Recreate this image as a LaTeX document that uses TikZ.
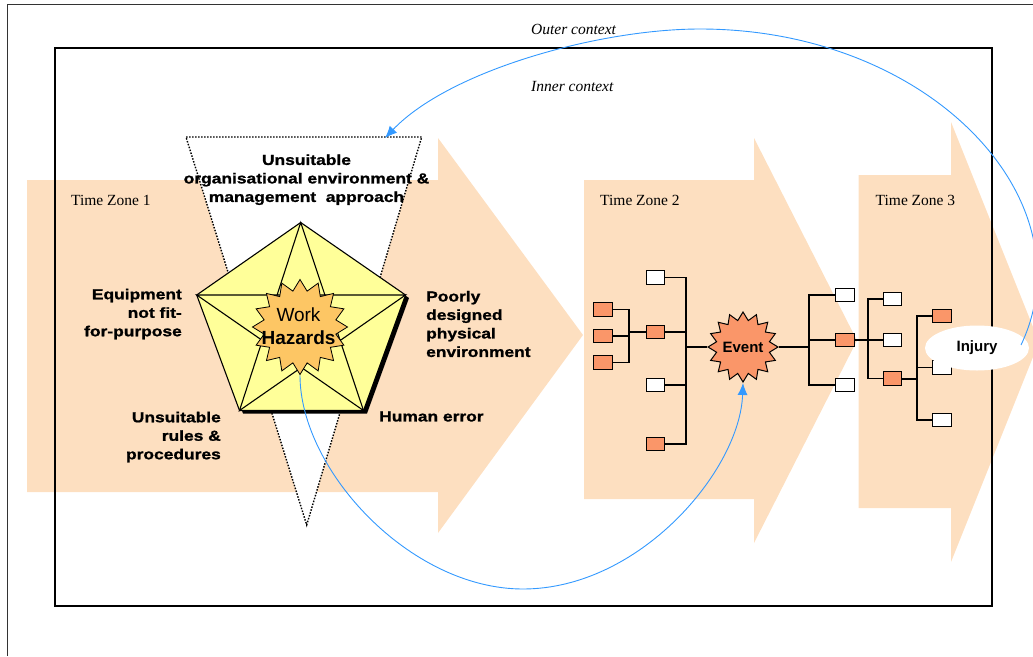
\documentclass[tikz,border=0pt]{standalone}
\usepackage{fontspec}
\setmainfont{Liberation Serif}
\newfontfamily\labelfont{Liberation Sans}[FakeStretch=1.2, FakeBold=1.2]
\newfontfamily\arialfont{Liberation Sans}
\usetikzlibrary{shapes.geometric,arrows.meta}

\definecolor{peach}{RGB}{253,223,192}
\definecolor{paleyellow}{RGB}{255,255,153}
\definecolor{hazard}{RGB}{253,198,100}
\definecolor{salmon}{RGB}{250,150,105}
\definecolor{linkblue}{RGB}{51,153,255}

\tikzset{
  zonearrow/.style={fill=peach, draw=none},
  treebox/.style={rectangle, draw=black, line width=1.1pt, minimum width=18.5pt,
    minimum height=13.5pt, inner sep=0pt},
  boxhot/.style={treebox, fill=salmon},
  boxcold/.style={treebox, fill=white},
  branchline/.style={line width=1.1pt},
  linkline/.style={line width=2pt},
  boldlabel/.style={inner sep=0pt, font=\labelfont\bfseries\fontsize{14.5}{18.5}\selectfont},
  zonelabel/.style={inner sep=0pt, anchor=west, font=\fontsize{15.5}{18}\selectfont},
  ctxlabel/.style={inner sep=0pt, anchor=west, font=\itshape\fontsize{15.5}{18}\selectfont},
  bluearc/.style={draw=linkblue, line width=0.9pt, -{Latex[length=12pt,width=10pt]}},
  burst/.style={star, star points=16, star point ratio=1.3, inner sep=0pt, draw=black},
}

\begin{document}
\begin{tikzpicture}[x=1pt, y=-1pt]
\useasboundingbox (0,0) rectangle (1033,656);

% time-zone arrows
\fill[zonearrow] (27,180) -- (438,180) -- (438,138) -- (583,335) -- (438,533) -- (438,492) -- (27,492) -- cycle;
\fill[zonearrow] (584,180) -- (754,180) -- (754,138) -- (857,340.5) -- (754,543) -- (754,499) -- (584,499) -- cycle;
\fill[zonearrow] (858.5,175) -- (951,175) -- (951,122) -- (1039,342) -- (951,562) -- (951,508) -- (858.5,508) -- cycle;

% inner context frame
\draw[line width=1.3pt] (55,48) rectangle (992,606);

% context and zone titles
\node[ctxlabel] (outer) at (531,29) {Outer context};
\node[ctxlabel] (inner) at (531,86) {Inner context};
\node[zonelabel] (tz1) at (71,200.5) {Time Zone 1};
\node[zonelabel] (tz2) at (600,200.5) {Time Zone 2};
\node[zonelabel] (tz3) at (875.5,200.5) {Time Zone 3};

% organisational funnel
\draw[line width=1.4pt, dash pattern=on 1.5pt off 1.5pt, fill=white]
  (186,137) -- (421.7,137) -- (306.7,525) -- cycle;

% hazard pentagon with pentagram
\coordinate (pT)  at (300.7,222.5);
\coordinate (pL)  at (196.7,295);
\coordinate (pR)  at (405.5,295);
\coordinate (pBL) at (239.5,410.5);
\coordinate (pBR) at (363.5,410.5);
\fill[black] ([xshift=3.5pt,yshift=-3pt]pT) -- ([xshift=3.5pt,yshift=-3pt]pR) -- ([xshift=3.5pt,yshift=-3pt]pBR)
  -- ([xshift=3.5pt,yshift=-3pt]pBL) -- ([xshift=3.5pt,yshift=-3pt]pL) -- cycle;
\draw[line width=1.1pt, fill=paleyellow, line join=round] (pT) -- (pR) -- (pBR) -- (pBL) -- (pL) -- cycle;
\draw[line width=1.1pt] (pT) -- (pBL) -- (pR) -- (pL) -- (pBR) -- cycle;

\node[burst, minimum size=95pt, fill=hazard, line width=0.8pt] (wh) at (300,327) {};
\node[align=center, inner sep=0pt, font=\arialfont\fontsize{19}{23}\selectfont] (whtext) at (298.5,326) {Work\\\textbf{Hazards}};

% contributing factors
\node[boldlabel, align=center] (org) at (306.5,179.7) {Unsuitable\\organisational environment \&\\management\ \ approach};
\node[boldlabel, align=right, anchor=east] (equip) at (182,314) {Equipment\\not fit-\\for-purpose};
\node[boldlabel, align=right, anchor=east] (rules) at (221,437) {Unsuitable\\rules \&\\procedures};
\node[boldlabel, align=left, anchor=west] (phys) at (426,324) {Poorly\\designed\\physical\\environment};
\node[boldlabel, anchor=west] (human) at (379,416.5) {Human error};

% event tree boxes
\node[boxhot]  (L1) at (603,309.5) {};
\node[boxhot]  (L2) at (603,336) {};
\node[boxhot]  (L3) at (603,362.5) {};
\node[boxcold] (M1) at (655.5,277.5) {};
\node[boxhot]  (M2) at (655.5,332) {};
\node[boxcold] (M3) at (655.5,385) {};
\node[boxhot]  (M4) at (655.5,444) {};
\node[boxcold] (R1) at (845,295) {};
\node[boxhot]  (R2) at (845,340) {};
\node[boxcold] (R3) at (845,385) {};
\node[boxcold] (S1) at (892.5,299) {};
\node[boxcold] (S2) at (892.5,340) {};
\node[boxhot]  (S3) at (892.5,378.5) {};
\node[boxhot]  (T1) at (942,316) {};
\node[boxcold] (T2) at (942,367.5) {};
\node[boxcold] (T3) at (942,420) {};

\node[burst, minimum size=70pt, fill=salmon, line width=1pt] (ev) at (743,347) {};
\node[inner sep=0pt, font=\arialfont\bfseries\fontsize{15}{18}\selectfont] (evtext) at (ev) {Event};

% branch junctions
\coordinate (ja) at (629,332);
\coordinate (jb) at (686,347);
\coordinate (jc) at (809,347);
\coordinate (jd) at (868,340);
\coordinate (je) at (917,378.5);

\draw[branchline] (L1.east) -| (ja);
\draw[branchline] (L2.east) -| (ja);
\draw[branchline] (L3.east) -| (ja);
\draw[linkline] (ja) -- (M2.west);

\draw[branchline] (M1.east) -| (jb);
\draw[branchline] (M2.east) -| (jb);
\draw[branchline] (M3.east) -| (jb);
\draw[branchline] (M4.east) -| (jb);
\draw[linkline] (jb) -- (ev);

\draw[linkline] (ev) -- (jc);
\draw[branchline] (jc) |- (R1.west);
\draw[branchline] (jc) |- (R2.west);
\draw[branchline] (jc) |- (R3.west);

\draw[linkline] (R2.east) -- (jd);
\draw[branchline] (jd) |- (S1.west);
\draw[branchline] (jd) -- (S2.west);
\draw[branchline] (jd) |- (S3.west);

\draw[linkline] (S3.east) -- (je);
\draw[branchline] (je) |- (T1.west);
\draw[branchline] (je) |- (T2.west);
\draw[branchline] (je) |- (T3.west);

% outcome
\node[ellipse, fill=white, minimum width=104pt, minimum height=45pt, inner sep=0pt,
  font=\arialfont\bfseries\fontsize{15}{18}\selectfont] (inj) at (977,348) {Injury};

% feedback links
\coordinate (injtail) at (1021,345);
\coordinate (orgtip) at (385,138);
\draw[bluearc] (injtail) .. controls (1090,200) and (930,29) .. (700,29)
  .. controls (600,29) and (450,70) .. (orgtip);
\draw[bluearc] (wh.south) .. controls (300,470) and (410,589) .. (523,589)
  .. controls (640,589) and (740,470) .. (ev.south);

% page frame
\draw[line width=0.9pt, draw=black!80] (7,656) -- (7,4) -- (1033,4);
\end{tikzpicture}
\end{document}
